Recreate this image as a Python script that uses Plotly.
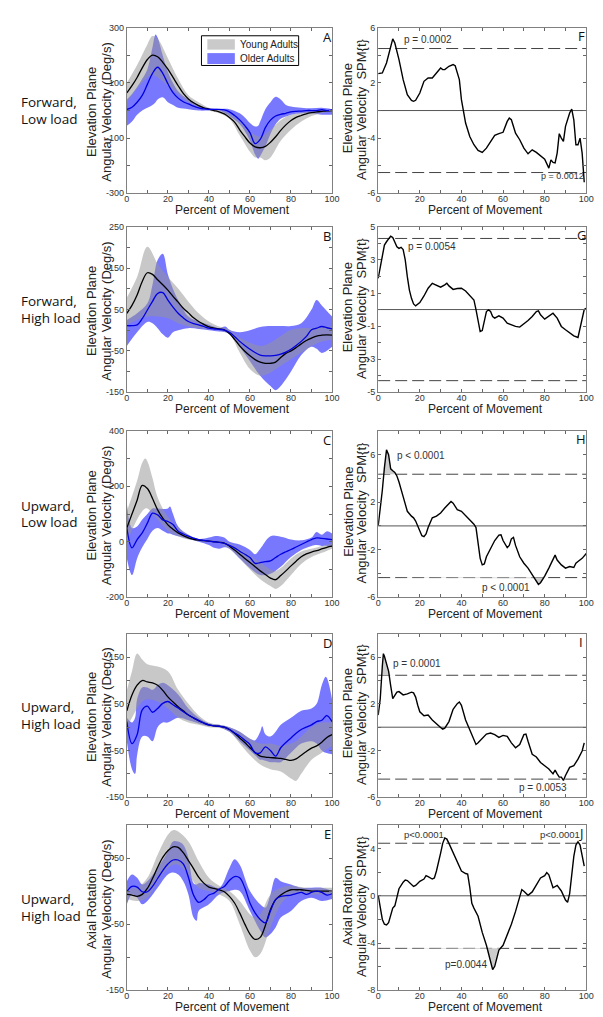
import numpy as np
import plotly.graph_objects as go

# ---------------- data ----------------
PCT = [i * 2.5 for i in range(41)]   # percent of movement grid for the mean curves

# Panel A  (Forward, Low load)
A_young_mean = [64,90,120,155,185,201,195,175,150,120,90,62,42,28,18,10,5,0,-5,-12,-25,-42,-70,-95,-118,-132,-135,-130,-115,-95,-72,-52,-36,-25,-18,-12,-8,-5,-3,-1,0]
A_older_mean = [4,12,30,55,95,135,157,135,97,65,45,32,24,16,10,6,4,4,4,2,-5,-18,-34,-55,-80,-120,-105,-62,-35,-20,-14,-10,-5,-3,-2,0,0,0,3,0,2]
A_young_bx = [0,5,10,12.5,15,20,25,30,35,40,45,50,55,60,62.5,65,67.5,70,75,80,85,90,95,100]
A_young_hi = [100,165,240,270,260,190,115,55,30,10,2,-10,-40,-75,-90,-95,-85,-70,-35,-15,-8,-3,0,2]
A_young_lo = [30,80,120,130,120,90,60,30,10,0,-10,-30,-90,-150,-170,-170,-180,-170,-110,-70,-40,-20,-10,-3]
A_older_bx = [0,2.5,5,7.5,10,12.5,14,15,17.5,20,22.5,25,30,35,40,45,50,55,57.5,60,62.5,64,65,67.5,70,72.5,75,77.5,80,85,90,95,100]
A_older_hi = [40,60,85,115,150,230,276,265,200,140,100,70,40,20,8,6,5,-10,-25,-45,-58,-55,-40,5,30,50,40,20,15,10,8,10,5]
A_older_lo = [-55,-40,-15,0,10,20,30,40,48,30,20,10,5,0,0,0,-20,-50,-75,-110,-160,-175,-165,-130,-85,-50,-30,-22,-15,-10,-10,-15,-15]

# Panel B  (Forward, High load)
B_young_mean = [41,60,85,118,139,135,122,110,97,82,68,53,42,30,21,14,8,5,3,1,-8,-22,-38,-51,-62,-71,-77,-80,-80,-77,-66,-56,-50,-42,-33,-25,-19,-14,-12,-11,-12]
B_older_mean = [11,11,13,28,49,70,89,91,73,56,41,30,21,16,13,9,5,3,2,0,-5,-15,-27,-37,-46,-54,-60,-62,-62,-61,-58,-53,-46,-37,-27,-15,1,5,9,6,3]
B_young_bx = [0,5,10,15,20,25,30,35,40,45,50,55,60,65,70,75,80,85,90,95,100]
B_young_hi = [79,129,202,161,129,101,69,41,21,9,1,-18,-30,-38,-30,-14,1,5,5,9,9]
B_young_lo = [13,25,33,33,29,17,9,5,3,0,-10,-54,-94,-110,-102,-86,-70,-54,-38,-27,-23]
B_older_bx = [0,5,10,12.5,15,17.5,20,22.5,25,30,35,40,45,48,50,55,60,65,70,72.5,75,80,85,90,92.5,95,100]
B_older_hi = [25,41,65,110,170,185,135,100,73,33,21,13,5,9,1,-5,0,8,10,10,10,10,17,50,73,60,33]
B_older_lo = [-38,-5,20,17,5,-10,-18,-5,0,5,3,0,-3,-5,-10,-40,-75,-110,-135,-145,-135,-100,-60,-40,-45,-55,-40]

# Panel C  (Upward, Low load)
C_young_mean = [50,100,150,203,192,156,115,85,61,45,32,22,14,9,6,4,2,0,-2,-5,-16,-30,-45,-60,-75,-90,-105,-118,-131,-137,-122,-105,-87,-70,-54,-44,-37,-32,-26,-20,-16]
C_older_mean = [50,-22,8,32,67,103,97,79,73,62,38,28,20,13,8,5,2,0,-2,-6,-13,-22,-34,-45,-57,-78,-75,-72,-69,-57,-45,-36,-28,-19,-10,-1,8,14,12,10,8]
C_young_bx = [0,5,7.5,9,10,12.5,15,20,25,30,35,40,45,50,55,60,65,70,72.5,75,80,85,90,95,100]
C_young_hi = [110,220,285,300,290,230,160,90,50,25,10,5,2,-5,-25,-50,-75,-100,-105,-95,-60,-35,-25,-15,-5]
C_young_lo = [0,80,110,120,120,100,80,40,20,8,3,0,-5,-25,-60,-100,-135,-160,-170,-160,-120,-80,-55,-40,-25]
C_older_bx = [0,2.5,5,7.5,10,12.5,15,17.5,20,21,22.5,25,30,35,40,42.5,45,47.5,50,55,60,62.5,65,70,75,80,85,90,92.5,95,97.5,100]
C_older_hi = [140,50,55,80,100,120,120,118,120,127,100,55,25,10,15,20,20,15,0,-10,-30,-45,-25,20,18,8,5,15,35,25,38,30]
C_older_lo = [-60,-120,-60,-20,10,40,50,40,30,30,25,20,10,0,-12,-22,-25,-20,-25,-60,-95,-110,-120,-115,-90,-55,-30,-15,-12,-15,-15,-20]

# Panel D  (Upward, High load, elevation)
D_young_mean = [35,69,90,100,97,95,90,79,65,54,44,35,26,20,14,9,5,3,2,0,-5,-13,-23,-33,-44,-54,-62,-64,-65,-66,-67,-69,-71,-68,-60,-52,-45,-40,-32,-22,-16]
D_older_mean = [12,-35,-16,37,45,32,40,51,55,48,41,33,26,20,14,9,5,3,2,0,-5,-12,-19,-28,-37,-55,-55,-42,-50,-62,-44,-33,-23,-13,-5,0,5,12,15,25,12]
D_young_bx = [0,2.5,5,7.5,10,15,20,25,30,35,40,45,50,55,60,65,70,75,80,82.5,85,90,95,100]
D_young_hi = [79,120,158,145,135,130,120,80,50,25,10,5,0,-10,-25,-35,-35,-40,-35,-30,-20,0,10,10]
D_young_lo = [0,20,40,55,60,55,40,20,10,5,0,-2,-10,-35,-60,-80,-90,-95,-110,-115,-100,-70,-55,-40]
D_older_bx = [0,2.5,4,5,7.5,10,12.5,15,17.5,20,25,30,35,40,45,50,55,60,62.5,65,66,67.5,70,72.5,75,80,85,90,92.5,95,97,100]
D_older_hi = [20,10,20,60,85,85,80,90,95,90,70,40,20,8,5,0,-10,-25,-28,-10,2,-15,-20,-10,5,20,35,40,50,90,108,60]
D_older_lo = [-30,-90,-100,-60,-20,-20,-30,0,10,10,20,15,8,2,0,-10,-30,-50,-60,-70,-70,-72,-75,-75,-75,-55,-35,-30,-35,-50,-55,-58]

# Panel E  (Upward, High load, axial rotation)
E_young_mean = [-5,-6,-8,-5,4,19,36,51,61,67,66,58,46,34,21,12,6,4,2,-1,-8,-18,-33,-50,-65,-73,-70,-52,-28,-13,-6,-1,2,2,2,1,0,0,0,0,0]
E_older_mean = [-1,7,6,-1,-1,7,19,31,41,47,47,41,21,-6,-17,-13,-6,-3,3,7,16,22,20,5,-18,-33,-43,-48,-30,-13,-8,-7,-6,-4,-2,-5,-2,0,-2,-6,-4]
E_young_bx = [0,5,10,15,20,22.5,25,30,35,40,45,50,55,60,62.5,65,70,75,80,85,90,95,100]
E_young_hi = [5,5,20,55,85,92,90,75,45,20,8,0,-15,-35,-40,-35,-5,5,8,6,4,5,5]
E_young_lo = [-12,-15,-10,15,35,40,40,25,5,0,-5,-15,-50,-90,-100,-95,-55,-20,-5,-3,-5,-5,-5]
E_older_bx = [0,2.5,5,7.5,10,15,20,22.5,25,27.5,30,32.5,34,35,40,45,50,52.5,55,60,65,67.5,70,72.5,75,80,85,90,95,100]
E_older_hi = [15,25,20,10,15,35,60,75,75,70,50,12,10,12,10,5,35,48,40,0,-20,-25,-5,20,15,10,5,5,5,0]
E_older_lo = [-20,-5,-10,-20,-15,5,25,28,25,15,-5,-40,-45,-30,-20,-5,0,2,0,-30,-60,-70,-65,-55,-40,-30,-15,-10,-15,-12]

# SPM{t} curves
F_x = [0,2,4,6,7,8,10,12,14,16,17,18,20,22,24,26,28,30,31,32,34,36,37,38,39,40,41,42,44,46,48,50,52,54,56,58,60,62,63,64,66,68,70,72,74,76,78,80,82,83,84,85,86,87,88,89,90,92,93,94,95,96,97,98,99]
F_t = [2.68,2.73,3.45,4.67,5.2,4.9,3.7,2.24,1.15,0.74,0.67,0.74,1.27,2.12,2.36,2.36,2.73,3.09,2.97,2.97,3.21,3.33,3.25,2.73,2.24,0.79,-0.18,-0.91,-1.88,-2.48,-2.9,-3.04,-2.73,-2.24,-1.8,-1.68,-1.58,-0.79,-0.55,-0.67,-1.64,-2.12,-2.73,-3.14,-2.85,-3.04,-3.28,-3.53,-4.18,-3.58,-3.77,-3.8,-3.09,-1.68,-2.0,-2.24,-1.15,-0.18,0.1,-0.67,-2.48,-2.48,-2.0,-3.09,-5.2]
G_x = [0,1,2,3,4,5,6,7,8,9,10,11,12,13,14,15,16,17,18,20,22,24,26,28,30,32,33,34,36,38,40,42,44,46,47,48,49,50,51,52,53,54,55,56,58,60,62,64,66,68,70,72,74,76,77,78,80,82,84,86,88,90,92,94,96,97,98,99,100]
G_t = [1.89,2.59,3.39,3.9,4.1,4.3,4.44,4.36,4.1,3.8,3.7,3.76,3.63,3.0,1.99,1.18,0.68,0.34,0.22,0.42,0.82,1.29,1.59,1.49,1.35,1.49,1.59,1.43,1.22,1.27,1.29,1.12,0.88,0.58,0.0,-0.62,-1.33,-1.27,-0.62,-0.12,-0.02,-0.12,-0.42,-0.52,-0.38,-0.52,-0.82,-0.92,-1.02,-1.06,-0.88,-0.66,-0.42,-0.12,-0.08,-0.32,-0.58,-0.42,-0.22,-0.52,-1.02,-1.22,-1.39,-1.59,-1.69,-1.12,-0.42,0.0,0.08]
H_x = [0,1,2,3,4,5,6,7,8,9,10,12,13,14,16,17,18,20,21,22,23,24,26,28,30,32,34,35,36,38,40,42,44,46,47,48,49,50,51,52,54,56,58,59,60,62,63,64,65,66,68,70,72,74,76,77,78,80,82,84,85,86,88,90,92,94,95,96,98,100]
H_t = [0.0,1.37,3.0,4.9,6.4,6.0,4.8,4.64,4.5,4.2,3.7,2.46,1.78,1.23,0.82,0.68,0.41,-0.41,-0.82,-0.9,-0.68,-0.14,0.68,0.82,1.09,1.5,1.91,2.05,1.91,1.37,1.23,0.87,0.55,0.14,-0.14,-1.37,-2.73,-3.28,-3.2,-2.6,-1.91,-1.23,-0.77,-0.75,-1.23,-1.83,-1.64,-1.09,-0.96,-1.64,-2.6,-3.14,-3.55,-4.1,-4.64,-4.92,-4.78,-4.23,-3.55,-2.73,-2.46,-2.87,-3.28,-3.55,-3.42,-3.5,-3.14,-3.0,-2.73,-2.32]
I_x = [0,1,2,2.5,3,4,5,6,7,8,9,10,12,14,16,17,18,19,20,22,24,26,28,30,31,32,34,36,38,39,40,42,44,46,47,48,50,52,54,56,58,60,62,64,66,68,70,71,72,74,76,78,80,82,84,85,86,87,88,89,90,91,92,94,96,98,99]
I_t = [1.04,2.44,5.24,6.3,6.08,5.5,4.8,3.56,2.44,2.72,3.0,3.05,2.77,2.86,3.0,2.94,2.58,1.88,1.32,0.98,1.04,0.62,0.25,-0.03,-0.17,-0.08,0.48,1.54,2.02,2.16,1.88,0.62,-0.22,-1.06,-1.48,-1.34,-0.92,-0.59,-0.5,-0.64,-0.87,-0.7,-0.78,-1.34,-1.76,-1.48,-0.64,-0.59,-1.2,-2.32,-2.55,-3.02,-3.3,-3.58,-4.0,-3.68,-4.0,-4.28,-4.28,-4.56,-4.14,-3.72,-3.44,-3.3,-2.74,-2.04,-1.34]
J_x = [0,1,2,3,4,5,6,7,8,9,10,12,13,14,16,17,18,20,22,23,24,26,27,28,30,31,32,33,34,36,38,40,42,43,44,45,46,48,50,52,54,55,56,57,58,60,62,64,66,68,69,70,72,74,76,78,80,81,82,84,86,88,90,91,92,93,94,95,96,97,98,99]
J_t = [0.05,-1.18,-2.0,-2.41,-2.47,-2.27,-1.59,-1.04,-0.85,-0.08,0.6,1.15,1.34,1.29,1.01,0.79,0.88,1.23,1.42,1.7,1.62,1.42,1.51,2.1,3.62,4.44,4.9,4.8,4.44,3.62,2.79,2.1,1.89,1.84,0.74,-0.63,-1.04,-1.73,-3.1,-4.19,-5.56,-6.25,-5.97,-5.15,-4.6,-4.19,-3.37,-2.41,-1.32,0.05,0.52,0.38,0.05,0.33,0.88,1.51,1.7,1.97,1.78,0.68,0.88,0.41,-0.36,-0.55,0.19,1.7,3.34,4.3,4.58,4.3,3.48,2.52]

SPM_THRESH = [4.5, 4.3, 4.35, 4.45, 4.45]
SPM_SHADE = [[], [], [1, -1], [1], [-1]]   # which supra-threshold clusters are shaded

ROW_LABELS = [("Forward,", "Low load"), ("Forward,", "High load"), ("Upward,", "Low load"),
              ("Upward,", "High load"), ("Upward,", "High load")]
LEFT_TITLES = [("Elevation Plane", "Angular Velocity (Deg/s)")] * 4 + [("Axial Rotation", "Angular Velocity (Deg/s)")]
RIGHT_TITLES = [("Elevation Plane", "Angular Velocity\u00a0 SPM{t}")] * 4 + [("Axial Rotation", "Angular Velocity\u00a0 SPM{t}")]
LEFT_LETTERS = ["A", "B", "C", "D", "E"]
RIGHT_LETTERS = ["F", "G", "H", "I", "J"]

LEFT_YRANGE = [[-300, 300], [-150, 250], [-200, 400], [-150, 200], [-150, 100]]
LEFT_YTICKS = [list(range(-300, 301, 100)), list(range(-150, 251, 50)), list(range(-200, 401, 100)),
               list(range(-150, 201, 50)), list(range(-150, 101, 50))]
LEFT_YLABELED = [[-300, -100, 100, 300], [-150, -50, 50, 150, 250], [-200, 0, 200, 400],
                 [-150, -50, 50, 150], [-150, -50, 50]]
RIGHT_YRANGE = [[-6, 6], [-5, 5], [-6, 8], [-6, 8], [-8, 6]]
RIGHT_YTICKS = [list(range(-6, 7, 2)), list(range(-5, 6, 1)), list(range(-6, 9, 2)),
                list(range(-6, 9, 2)), list(range(-8, 7, 2))]
RIGHT_YTEXT = [{6: "6", 2: "2", -2: "-4", -6: "-6"},
               {5: "5", 3: "3", 1: "1", -1: "-1", -3: "-3", -5: "-5"},
               {6: "6", 2: "2", -2: "-2", -6: "-6"},
               {6: "6", 2: "2", -2: "-2", -6: "-6"},
               {4: "4", 0: "0", -4: "-4", -8: "-8"}]
X_TICKS = list(range(0, 101, 10))
X_LABELED = [0, 20, 40, 60, 80, 100]

# p-value labels: (text, left px, center px, size)
P_LABELS = [
    [("p = 0.0002", 398, 27, 10), ("p = 0.0012", 538, 165, 9)],
    [("p = 0.0054", 402, 236, 10)],
    [("p < 0.0001", 391, 447, 10), ("p < 0.0001", 478, 580, 10)],
    [("p = 0.0001", 387, 657, 10), ("p = 0.0053", 515, 782, 10)],
    [("p<0.0001", 398, 830, 9.5), ("p<0.0001", 537, 830, 9.5), ("p=0.0044", 440, 961, 10)],
]

left_panels = [
    (A_young_mean, A_older_mean, A_young_bx, A_young_hi, A_young_lo, A_older_bx, A_older_hi, A_older_lo),
    (B_young_mean, B_older_mean, B_young_bx, B_young_hi, B_young_lo, B_older_bx, B_older_hi, B_older_lo),
    (C_young_mean, C_older_mean, C_young_bx, C_young_hi, C_young_lo, C_older_bx, C_older_hi, C_older_lo),
    (D_young_mean, D_older_mean, D_young_bx, D_young_hi, D_young_lo, D_older_bx, D_older_hi, D_older_lo),
    (E_young_mean, E_older_mean, E_young_bx, E_young_hi, E_young_lo, E_older_bx, E_older_hi, E_older_lo),
]
right_panels = [(F_x, F_t), (G_x, G_t), (H_x, H_t), (I_x, I_t), (J_x, J_t)]

# ---------------- layout geometry (pixels) ----------------
W, H = 603, 1017
LEFT_X = (118, 327)
RIGHT_X = (374, 586)
ROWS_Y = [(15, 182), (216, 383), (422, 590), (627, 792), (820, 987)]

def fx(p):
    return p / W

def fy(p):
    return 1 - p / H

YOUNG_FILL = "rgba(150,150,150,0.52)"
OLDER_FILL = "rgba(0,0,255,0.53)"
OLDER_LINE = "rgb(0,0,225)"
CLUSTER_FILL = "rgb(205,205,205)"
TICKFONT = dict(family="Liberation Sans, Arial", size=9, color="#333")
TITLEFONT = dict(family="Liberation Sans, Arial", size=13, color="#222")
XTITLEFONT = dict(family="Liberation Sans, Arial", size=12, color="#222")
LABELFONT = dict(family="Open Sans", size=13.5, color="#111")

fig = go.Figure()
layout = dict(width=W, height=H, margin=dict(l=0, r=0, t=0, b=0),
              paper_bgcolor="white", plot_bgcolor="white", showlegend=False)
annotations = []
shapes = []


def axis_names(k):
    return ("x" if k == 1 else f"x{k}"), ("y" if k == 1 else f"y{k}")


def base_axis(domain, rng, tickvals, ticktext):
    return dict(domain=domain, range=rng, tickvals=tickvals, ticktext=ticktext,
                ticks="inside", ticklen=3, tickwidth=1, tickcolor="#666",
                showline=True, linecolor="#808080", linewidth=1, mirror="ticks",
                showgrid=False, zeroline=False, tickfont=TICKFONT, fixedrange=True)


xticktext = [str(v) if v in X_LABELED else "" for v in X_TICKS]

for i in range(5):
    top, bot = ROWS_Y[i]
    ydom = [fy(bot), fy(top)]
    # ---------- left panel ----------
    k = 2 * i + 1
    xa, ya = axis_names(k)
    ym, om, ybx, yhi, ylo, obx, ohi, olo = left_panels[i]
    # older adults band
    fig.add_trace(go.Scatter(x=obx, y=olo, mode="lines", line=dict(width=0, shape="spline"),
                             hoverinfo="skip", xaxis=xa, yaxis=ya))
    fig.add_trace(go.Scatter(x=obx, y=ohi, mode="lines", line=dict(width=0, shape="spline"),
                             fill="tonexty", fillcolor=OLDER_FILL, hoverinfo="skip",
                             xaxis=xa, yaxis=ya, name="Older Adults"))
    # young adults band
    fig.add_trace(go.Scatter(x=ybx, y=ylo, mode="lines", line=dict(width=0, shape="spline"),
                             hoverinfo="skip", xaxis=xa, yaxis=ya))
    fig.add_trace(go.Scatter(x=ybx, y=yhi, mode="lines", line=dict(width=0, shape="spline"),
                             fill="tonexty", fillcolor=YOUNG_FILL, hoverinfo="skip",
                             xaxis=xa, yaxis=ya, name="Young Adults"))
    # means
    fig.add_trace(go.Scatter(x=PCT, y=ym, mode="lines", line=dict(color="black", width=1.3, shape="spline"),
                             xaxis=xa, yaxis=ya, name="Young mean"))
    fig.add_trace(go.Scatter(x=PCT, y=om, mode="lines", line=dict(color=OLDER_LINE, width=1.3, shape="spline"),
                             xaxis=xa, yaxis=ya, name="Older mean"))
    yt = LEFT_YTICKS[i]
    layout["xaxis" + ("" if k == 1 else str(k))] = dict(
        base_axis([fx(LEFT_X[0]), fx(LEFT_X[1])], [0, 100], X_TICKS, xticktext), anchor=ya,
        ticklabelstandoff=-3)
    layout["yaxis" + ("" if k == 1 else str(k))] = dict(
        base_axis(ydom, LEFT_YRANGE[i], yt, [str(v) if v in LEFT_YLABELED[i] else "" for v in yt]), anchor=xa)

    # ---------- right panel ----------
    k = 2 * i + 2
    xa, ya = axis_names(k)
    sx, st = right_panels[i]
    thr = SPM_THRESH[i]
    xf = np.linspace(sx[0], sx[-1], 3001)
    tf = np.interp(xf, sx, st)
    for sgn in SPM_SHADE[i]:
        level = sgn * thr
        clipped = np.maximum(tf, level) if sgn > 0 else np.minimum(tf, level)
        fig.add_trace(go.Scatter(x=xf, y=np.full_like(xf, level), mode="lines", line=dict(width=0),
                                 hoverinfo="skip", xaxis=xa, yaxis=ya))
        fig.add_trace(go.Scatter(x=xf, y=clipped, mode="lines", line=dict(width=0),
                                 fill="tonexty", fillcolor=CLUSTER_FILL, hoverinfo="skip",
                                 xaxis=xa, yaxis=ya))
    fig.add_trace(go.Scatter(x=sx, y=st, mode="lines", line=dict(color="black", width=1.4),
                             xaxis=xa, yaxis=ya, name="SPM{t}"))
    yt = RIGHT_YTICKS[i]
    layout["xaxis" + str(k)] = dict(
        base_axis([fx(RIGHT_X[0]), fx(RIGHT_X[1])], [0, 100], X_TICKS, xticktext), anchor=ya,
        ticklabelstandoff=-3)
    layout["yaxis" + str(k)] = dict(
        base_axis(ydom, RIGHT_YRANGE[i], yt, [RIGHT_YTEXT[i].get(v, "") for v in yt]), anchor=xa)
    # zero line and thresholds
    shapes.append(dict(type="line", xref=f"{xa} domain", yref=ya, x0=0, x1=1, y0=0, y1=0,
                       line=dict(color="#555", width=1), layer="below"))
    for lv in (thr, -thr):
        shapes.append(dict(type="line", xref=f"{xa} domain", yref=ya, x0=0, x1=1, y0=lv, y1=lv,
                           line=dict(color="#444", width=1, dash="12px,5px"), layer="below"))

    # ---------- texts ----------
    cy = (top + bot) / 2
    l1, l2 = ROW_LABELS[i]
    annotations.append(dict(text=l1, x=fx(8), y=fy(cy - 8.5), xref="paper", yref="paper",
                            xanchor="left", yanchor="middle", showarrow=False, font=LABELFONT))
    annotations.append(dict(text=l2, x=fx(8), y=fy(cy + 8.5), xref="paper", yref="paper",
                            xanchor="left", yanchor="middle", showarrow=False, font=LABELFONT))
    t1, t2 = LEFT_TITLES[i]
    annotations.append(dict(text=t1, x=fx(82), y=fy(cy + 2), xref="paper", yref="paper", textangle=-90,
                            xanchor="center", yanchor="middle", showarrow=False, font=TITLEFONT))
    annotations.append(dict(text=t2, x=fx(97), y=fy(cy + 2), xref="paper", yref="paper", textangle=-90,
                            xanchor="center", yanchor="middle", showarrow=False, font=TITLEFONT))
    t1, t2 = RIGHT_TITLES[i]
    annotations.append(dict(text=t1, x=fx(343), y=fy(cy - 2), xref="paper", yref="paper", textangle=-90,
                            xanchor="center", yanchor="middle", showarrow=False, font=TITLEFONT))
    annotations.append(dict(text=t2, x=fx(357), y=fy(cy - 2), xref="paper", yref="paper", textangle=-90,
                            xanchor="center", yanchor="middle", showarrow=False, font=TITLEFONT))
    for (x0, x1) in (LEFT_X, RIGHT_X):
        annotations.append(dict(text="Percent of Movement", x=fx((x0 + x1) / 2 + 3), y=fy(bot + 17),
                                xref="paper", yref="paper", xanchor="center", yanchor="middle",
                                showarrow=False, font=XTITLEFONT))
    annotations.append(dict(text=LEFT_LETTERS[i], x=fx(LEFT_X[1] - 5), y=fy(top + 9), xref="paper",
                            yref="paper", xanchor="center", yanchor="middle", showarrow=False,
                            font=dict(family="Open Sans", size=13, color="#111")))
    annotations.append(dict(text=RIGHT_LETTERS[i], x=fx(RIGHT_X[1] - 5), y=fy(top + 8), xref="paper",
                            yref="paper", xanchor="center", yanchor="middle", showarrow=False,
                            font=dict(family="Open Sans", size=13, color="#111")))
    for (txt, px_, py_, sz) in P_LABELS[i]:
        annotations.append(dict(text=txt, x=fx(px_), y=fy(py_), xref="paper", yref="paper",
                                xanchor="left", yanchor="middle", showarrow=False,
                                font=dict(family="Liberation Sans, Arial", size=sz, color="#333")))

# ---------- manual legend in panel A ----------
shapes.append(dict(type="rect", xref="paper", yref="paper", x0=fx(194), x1=fx(293), y0=fy(53), y1=fy(23),
                   line=dict(color="black", width=1), fillcolor="white", layer="above"))
shapes.append(dict(type="rect", xref="paper", yref="paper", x0=fx(200), x1=fx(228), y0=fy(37), y1=fy(26.5),
                   line=dict(width=0), fillcolor="rgb(202,202,202)", layer="above"))
shapes.append(dict(type="rect", xref="paper", yref="paper", x0=fx(200), x1=fx(228), y0=fy(51.5), y1=fy(40.5),
                   line=dict(width=0), fillcolor="rgb(120,120,255)", layer="above"))
for txt, yy in (("Young Adults", 31.7), ("Older Adults", 45.7)):
    annotations.append(dict(text=txt, x=fx(231.5), y=fy(yy), xref="paper", yref="paper", xanchor="left",
                            yanchor="middle", showarrow=False,
                            font=dict(family="Liberation Sans, Arial", size=10, color="#222")))

layout["annotations"] = annotations
layout["shapes"] = shapes
fig.update_layout(**layout)
fig.write_html("out.html")
